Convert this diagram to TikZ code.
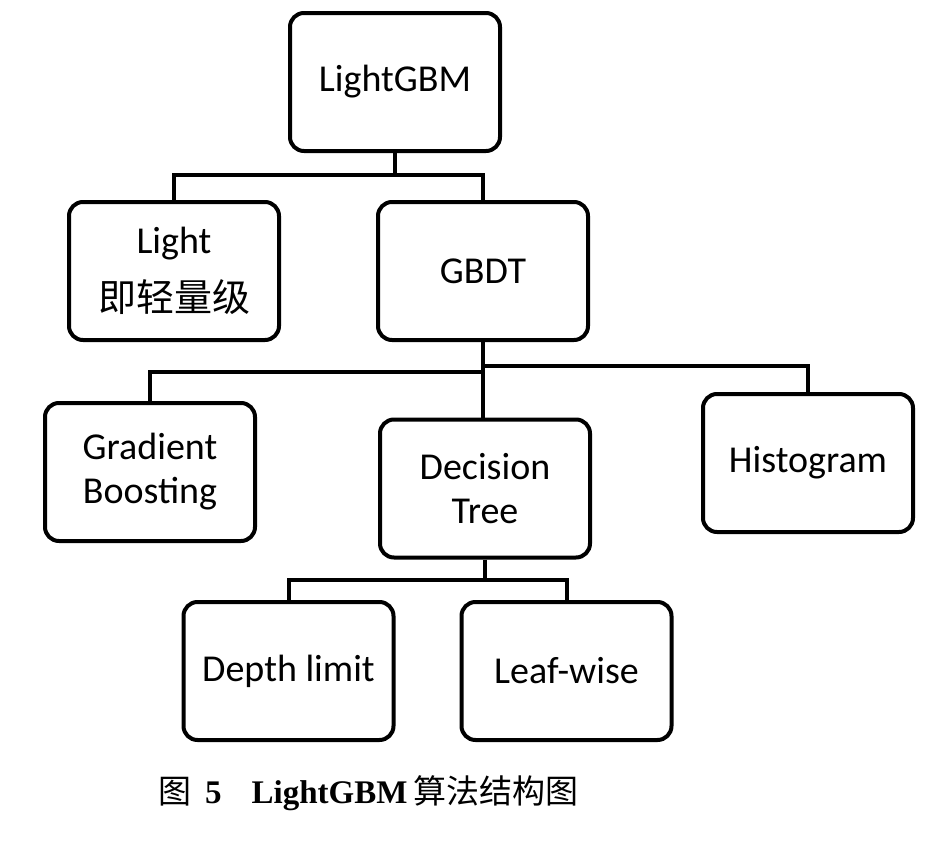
\documentclass[tikz,border=0pt]{standalone}
\usepackage{fontspec}
\setmainfont{Carlito}
\newfontfamily\cjk{Noto Sans CJK SC}
\newfontfamily\capfont{Liberation Serif}
\begin{document}
\begin{tikzpicture}[x=1pt,y=-1pt,
  box/.style={draw=black,line width=4pt,rounded corners=14pt,minimum width=210pt,minimum height=138pt,align=center,inner sep=0pt,font=\fontsize{38}{44}\selectfont},
  conn/.style={draw=black,line width=4pt}]
\useasboundingbox (0,0) rectangle (946,846);
\node[box] (top) at (395,82) {LightGBM};
\node[box] (light) at (174,271) {Light\\[14pt]{\cjk 即轻量级}};
\node[box] (gbdt) at (483,271) {GBDT};
\node[box] (grad) at (150,472) {Gradient\\Boosting};
\node[box] (dt) at (485,488.5) {Decision\\Tree};
\node[box] (hist) at (808,463) {Histogram};
\node[box] (depth) at (288.5,671) {Depth limit};
\node[box] (leaf) at (566.5,671) {Leaf-wise};
\coordinate (b1) at (395,175);
\coordinate (r2) at (483,366);
\coordinate (l2) at (483,372);
\coordinate (b4) at (485,580);
\draw[conn] (top.south) -- (b1);
\draw[conn] (light.north) |- (b1) -| (gbdt.north);
\draw[conn] (gbdt.south) -- (gbdt.south |- dt.north);
\draw[conn] (r2) -| (hist.north);
\draw[conn] (l2) -| (grad.north);
\draw[conn] (dt.south) -- (b4);
\draw[conn] (depth.north) |- (b4) -| (leaf.north);
\node[anchor=west,inner sep=0pt,font=\fontsize{33}{38}\selectfont] (cap) at (158,793)
  {{\cjk 图}\hspace{14pt}{\capfont\bfseries 5}\hspace{30pt}{\capfont\bfseries LightGBM}\hspace{6pt}{\cjk 算法结构图}};
\end{tikzpicture}
\end{document}
